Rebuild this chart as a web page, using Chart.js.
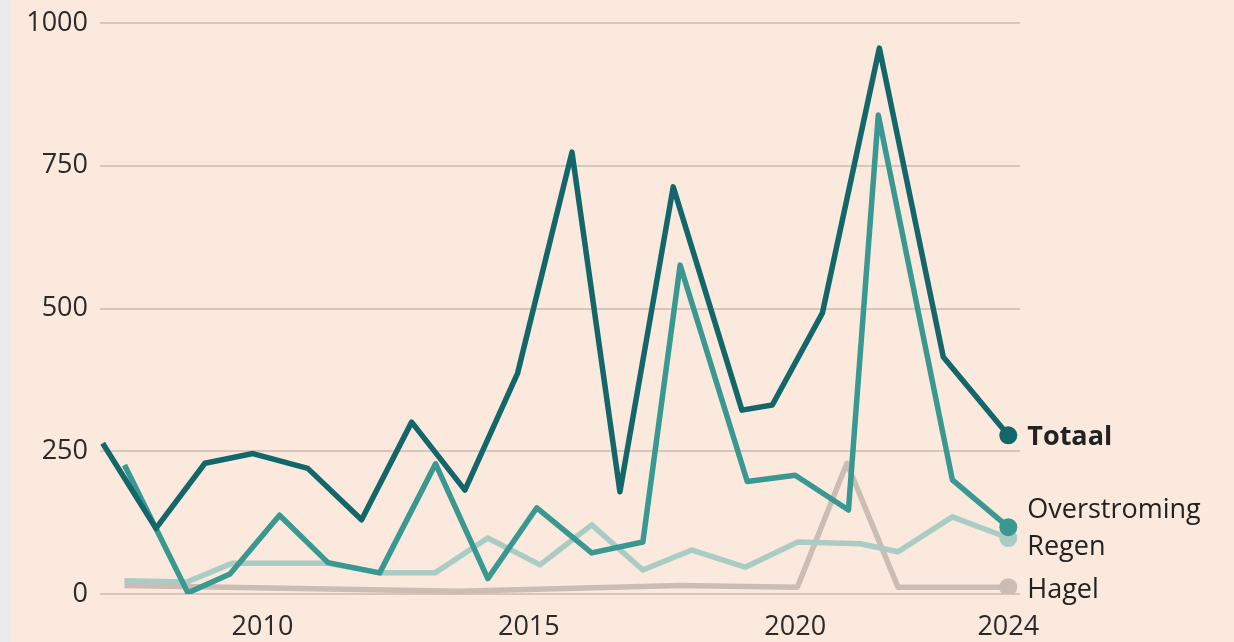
<!DOCTYPE html>
<html lang="nl">
  <head>
    <meta charset="UTF-8" />
    <title>Schade per jaar</title>
    <script src="https://cdn.jsdelivr.net/npm/chart.js@4.4.1/dist/chart.umd.min.js"></script>
    <style>
      html, body {
        margin: 0;
        padding: 0;
        background-color: #ebebeb;
        overflow: hidden;
      }
      .chart-box {
        position: absolute;
        left: 11px;
        top: 0;
        width: 1223px;
        height: 642px;
        background-color: #fbe9dd;
      }
    </style>
  </head>
  <body>
    <div class="chart-box">
      <canvas id="myChart" width="1223" height="642"></canvas>
    </div>

    <script>
      // ---------- data ----------
      const tickYears = [2010, 2015, 2020, 2024];
      const yTicks = [0, 250, 500, 750, 1000];

      const totaalYears  = [2007.0, 2008.0, 2008.92, 2009.82, 2010.85, 2011.86, 2012.8, 2013.8, 2014.79, 2015.81, 2016.71, 2017.71, 2019.0, 2019.57, 2020.51, 2021.58, 2022.78, 2024.0];
      const totaalValues = [264, 115, 229, 246, 220, 130, 301, 182, 387, 774, 179, 713, 322, 331, 492, 956, 415, 278];

      const overstromingYears  = [2007.41, 2008.6, 2009.39, 2010.32, 2011.23, 2012.2, 2013.25, 2014.23, 2015.15, 2016.18, 2017.14, 2017.84, 2019.1, 2020.0, 2021.0, 2021.56, 2022.95, 2024.0];
      const overstromingValues = [226, 2, 35, 138, 55, 37, 228, 27, 151, 72, 91, 576, 197, 208, 147, 839, 200, 117];

      const regenYears  = [2007.41, 2008.58, 2009.44, 2011.21, 2012.2, 2013.24, 2014.23, 2015.21, 2016.18, 2017.14, 2018.06, 2019.06, 2020.05, 2021.22, 2021.93, 2022.95, 2024.0];
      const regenValues = [23, 21, 54, 54, 37, 37, 98, 51, 121, 42, 77, 47, 91, 88, 74, 135, 98];

      const hagelYears  = [2007.41, 2013.7, 2017.84, 2020.04, 2020.97, 2021.93, 2024.0];
      const hagelValues = [15, 5, 15, 12, 229, 12, 12];

      const seriesNames  = ["Totaal", "Overstroming", "Regen", "Hagel"];
      const seriesColors = ["#13676b", "#3a9892", "#a9ccc4", "#cbbdb3"];

      function pts(xs, ys) {
        return xs.map(function (x, i) { return { x: x, y: ys[i] }; });
      }

      function lastDot(n) {
        return Array(n).fill(0).map(function (v, i) { return i === n - 1 ? 9 : 0; });
      }

      const allData = [
        pts(totaalYears, totaalValues),
        pts(overstromingYears, overstromingValues),
        pts(regenYears, regenValues),
        pts(hagelYears, hagelValues),
      ];

      const datasets = allData.map(function (d, i) {
        return {
          label: seriesNames[i],
          data: d,
          borderColor: seriesColors[i],
          backgroundColor: seriesColors[i],
          borderWidth: 5.5,
          borderJoinStyle: "round",
          pointRadius: lastDot(d.length),
          pointBorderWidth: 0,
          pointHoverRadius: 0,
          tension: 0,
        };
      });

      // label next to the last point of each line
      const labelOffsets = [2, -17, 9, 3];
      const endLabels = {
        id: "endLabels",
        afterDatasetsDraw(chart) {
          const ctx = chart.ctx;
          ctx.save();
          ctx.fillStyle = "#222222";
          ctx.textBaseline = "middle";
          ctx.textAlign = "left";
          chart.data.datasets.forEach(function (ds, i) {
            const meta = chart.getDatasetMeta(i);
            const pt = meta.data[meta.data.length - 1];
            ctx.font = (i === 0 ? "bold " : "") + "27px 'Open Sans'";
            ctx.fillText(ds.label, pt.x + 19, pt.y + labelOffsets[i]);
          });
          ctx.restore();
        },
      };

      const ctx = document.getElementById("myChart").getContext("2d");
      const myChart = new Chart(ctx, {
        type: "line",
        data: { datasets: datasets },
        options: {
          responsive: false,
          animation: false,
          layout: { padding: { top: 23, right: 214, left: 0, bottom: 0 } },
          plugins: {
            legend: { display: false },
            tooltip: { enabled: false },
          },
          scales: {
            x: {
              type: "linear",
              min: 2006.95,
              max: 2024.22,
              afterBuildTicks: function (scale) {
                scale.ticks = tickYears.map(function (v) { return { value: v }; });
              },
              afterFit: function (scale) { scale.height = 48; },
              grid: { display: false },
              border: { display: false },
              ticks: {
                color: "#2a2a2a",
                font: { family: "Open Sans", size: 27 },
                padding: 9,
                maxRotation: 0,
                callback: function (v) { return String(v); },
              },
            },
            y: {
              min: 0,
              max: 1000,
              afterBuildTicks: function (scale) {
                scale.ticks = yTicks.map(function (v) { return { value: v }; });
              },
              afterFit: function (scale) {
                scale.width = 89;
                scale.paddingTop = 0;
                scale.paddingBottom = 0;
              },
              grid: { color: "#d6c6bb", lineWidth: 2, drawTicks: false },
              border: { display: false },
              ticks: {
                color: "#2a2a2a",
                font: { family: "Open Sans", size: 27 },
                padding: 12,
                callback: function (v) { return String(v); },
              },
            },
          },
        },
        plugins: [endLabels],
      });
    </script>
  </body>
</html>
